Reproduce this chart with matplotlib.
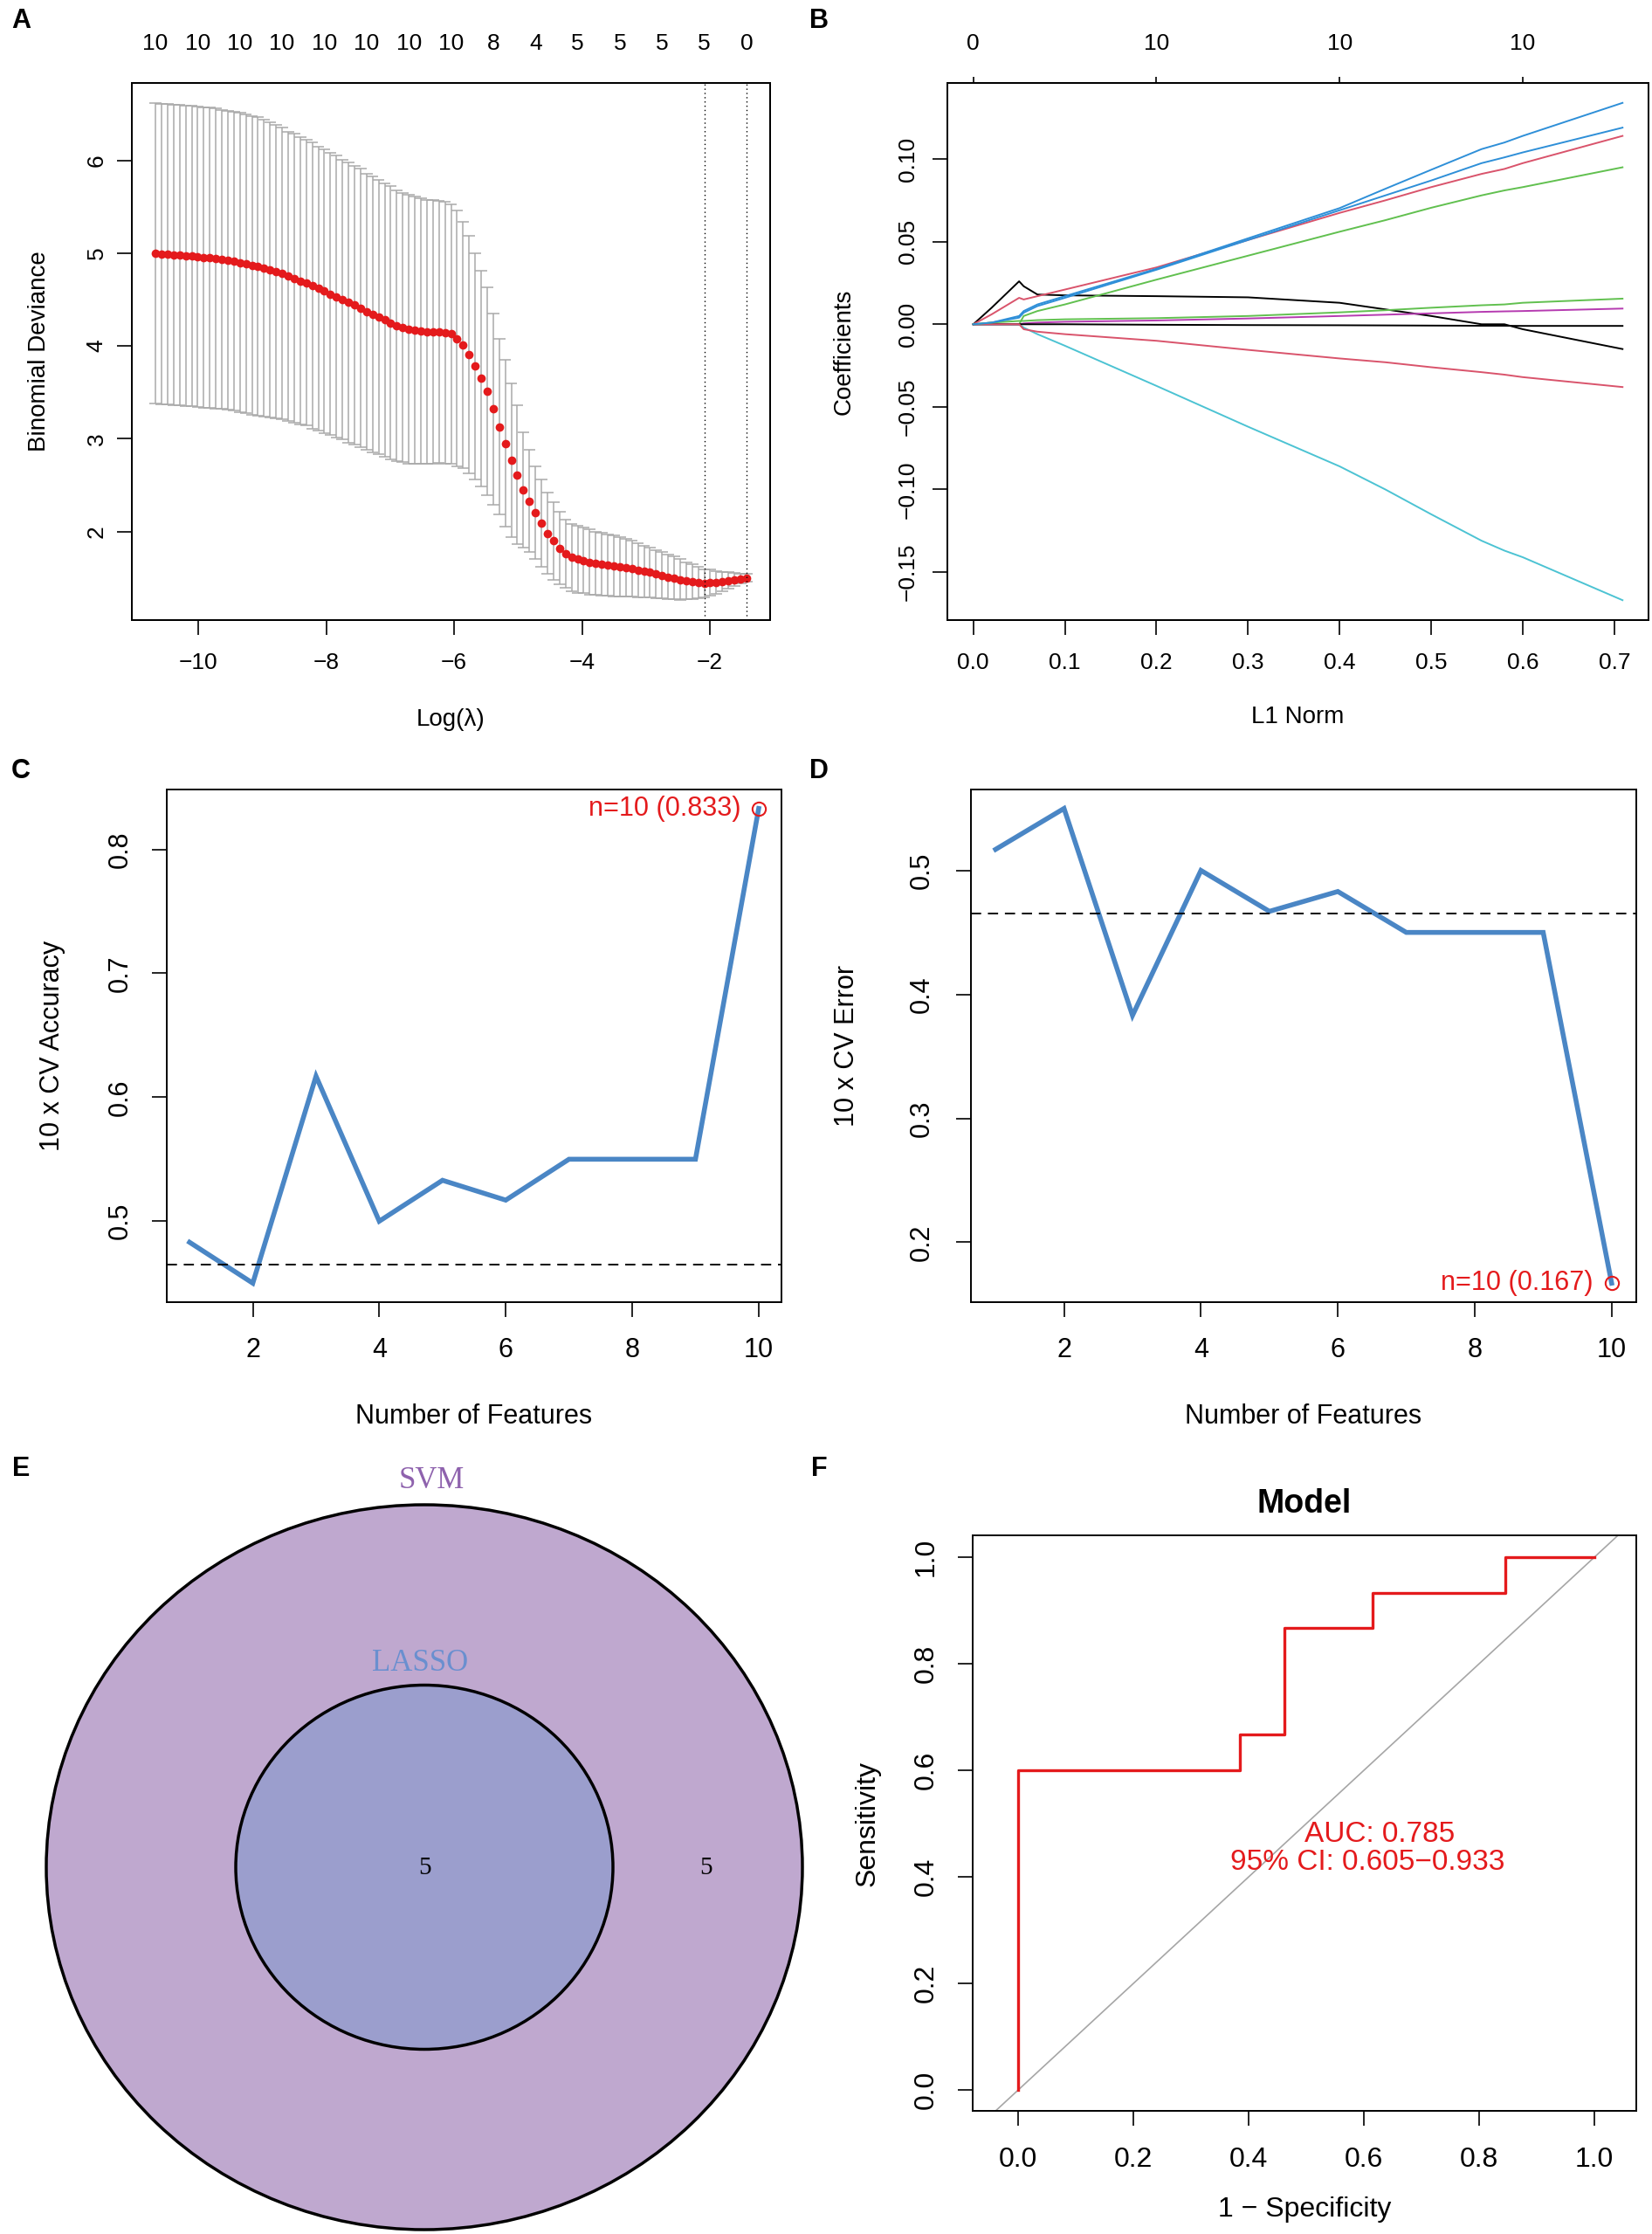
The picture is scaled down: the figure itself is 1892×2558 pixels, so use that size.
import numpy as np
import matplotlib
matplotlib.use("Agg")
import matplotlib.pyplot as plt
from matplotlib.patches import Ellipse

plt.rcParams['font.family'] = ['Liberation Sans', 'DejaVu Sans']
plt.rcParams['axes.linewidth'] = 1.4

# ---------------- data ----------------
# A: cv.glmnet binomial deviance along the lambda path
log_lambda = np.linspace(-10.67, -1.43, 99)
cv_mean = [5.00, 4.99, 4.99, 4.98, 4.98, 4.97, 4.97, 4.96, 4.95, 4.95,
           4.94, 4.93, 4.92, 4.91, 4.90, 4.89, 4.87, 4.86, 4.84, 4.82,
           4.80, 4.78, 4.75, 4.73, 4.70, 4.68, 4.65, 4.62, 4.59, 4.56,
           4.53, 4.50, 4.47, 4.44, 4.41, 4.37, 4.34, 4.31, 4.28, 4.25,
           4.22, 4.20, 4.18, 4.17, 4.16, 4.15, 4.15, 4.15, 4.14, 4.13,
           4.08, 4.01, 3.91, 3.78, 3.65, 3.51, 3.32, 3.13, 2.95, 2.77,
           2.61, 2.45, 2.33, 2.20, 2.09, 1.98, 1.90, 1.82, 1.76, 1.72,
           1.70, 1.69, 1.67, 1.66, 1.65, 1.64, 1.63, 1.62, 1.61, 1.60,
           1.58, 1.57, 1.56, 1.54, 1.53, 1.51, 1.50, 1.48, 1.47, 1.46,
           1.45, 1.445, 1.45, 1.45, 1.46, 1.47, 1.48, 1.49, 1.50]
cv_sd = [1.62, 1.62, 1.62, 1.62, 1.62, 1.62, 1.62, 1.62, 1.62, 1.62,
         1.62, 1.61, 1.61, 1.61, 1.61, 1.61, 1.61, 1.61, 1.60, 1.59,
         1.58, 1.57, 1.56, 1.56, 1.55, 1.54, 1.54, 1.53, 1.53, 1.52,
         1.52, 1.51, 1.51, 1.50, 1.50, 1.49, 1.49, 1.48, 1.47, 1.47,
         1.46, 1.45, 1.45, 1.44, 1.43, 1.42, 1.42, 1.41, 1.41, 1.40,
         1.38, 1.33, 1.28, 1.22, 1.16, 1.12, 1.03, 0.95, 0.90, 0.83,
         0.75, 0.62, 0.55, 0.50, 0.47, 0.44, 0.42, 0.39, 0.37, 0.36,
         0.36, 0.35, 0.35, 0.34, 0.34, 0.33, 0.33, 0.32, 0.31, 0.30,
         0.29, 0.28, 0.27, 0.26, 0.25, 0.24, 0.23, 0.22, 0.20, 0.19,
         0.17, 0.15, 0.14, 0.12, 0.10, 0.09, 0.07, 0.05, 0.04]
nzero_labels = [10, 10, 10, 10, 10, 10, 10, 10, 8, 4, 5, 5, 5, 5, 0]
idx_lambda_min = 91
idx_lambda_1se = 98

# B: coefficient paths vs L1 norm
l1_norm = [0.0, 0.02, 0.05, 0.055, 0.07, 0.1, 0.2, 0.3, 0.4, 0.45, 0.5, 0.555, 0.58, 0.6, 0.709]
coef_black1 = [0, 0.010, 0.026, 0.023, 0.018, 0.0175, 0.017, 0.0163, 0.013, 0.009, 0.005, 0.0, 0.0, -0.003, -0.015]
coef_red1 = [0, 0.006, 0.016, 0.015, 0.017, 0.021, 0.0344, 0.051, 0.0674, 0.075, 0.083, 0.091, 0.094, 0.0975, 0.114]
coef_green1 = [0, 0, 0, 0.005, 0.008, 0.012, 0.027, 0.0415, 0.056, 0.063, 0.0705, 0.078, 0.081, 0.083, 0.095]
coef_blue1 = [0, 0.001, 0.005, 0.008, 0.012, 0.017, 0.0336, 0.052, 0.0703, 0.082, 0.0935, 0.106, 0.110, 0.114, 0.134]
coef_cyan = [0, 0, 0, -0.002, -0.006, -0.013, -0.0373, -0.062, -0.086, -0.100, -0.115, -0.131, -0.137, -0.141, -0.167]
coef_magenta = [0, 0, 0, 0.0005, 0.001, 0.0015, 0.0023, 0.0035, 0.005, 0.0058, 0.0066, 0.0075, 0.0078, 0.008, 0.0095]
coef_black2 = [0, 0, 0, 0, 0, 0, -0.0003, -0.0005, -0.0006, -0.0007, -0.0008, -0.0009, -0.0009, -0.001, -0.001]
coef_red2 = [0, 0, 0, -0.003, -0.0045, -0.006, -0.010, -0.0155, -0.0207, -0.023, -0.026, -0.029, -0.0305, -0.032, -0.038]
coef_green2 = [0, 0.001, 0.002, 0.002, 0.0025, 0.003, 0.0037, 0.005, 0.0072, 0.0085, 0.010, 0.0115, 0.012, 0.013, 0.0155]
coef_blue2 = [0, 0.001, 0.004, 0.007, 0.011, 0.016, 0.033, 0.051, 0.069, 0.078, 0.087, 0.0975, 0.101, 0.104, 0.119]
coef_paths = [coef_black1, coef_red1, coef_green1, coef_blue1, coef_cyan,
              coef_magenta, coef_black2, coef_red2, coef_green2, coef_blue2]
path_colors = ['black', '#D9536B', '#61C04F', '#2E8FD8', '#4CC3D3',
               '#B53AB0', 'black', '#D9536B', '#61C04F', '#2E8FD8']
df_ticks = [0.0, 0.2, 0.4, 0.6]
df_labels = [0, 10, 10, 10]

# C / D: SVM-RFE cross-validation
n_features = [1, 2, 3, 4, 5, 6, 7, 8, 9, 10]
cv_accuracy = [0.483, 0.450, 0.617, 0.500, 0.533, 0.517, 0.550, 0.550, 0.550, 0.833]
cv_error = [0.517, 0.550, 0.383, 0.500, 0.467, 0.483, 0.450, 0.450, 0.450, 0.167]
ref_accuracy = 0.465
ref_error = 0.465

# E: Venn
set_names = ['SVM', 'LASSO']
region_counts = [5, 5]   # LASSO & SVM, SVM only

# F: ROC
roc_fpr = [0.0, 0.0, 0.385, 0.385, 0.462, 0.462, 0.615, 0.615, 0.846, 0.846, 1.0]
roc_tpr = [0.0, 0.6, 0.6, 0.667, 0.667, 0.867, 0.867, 0.933, 0.933, 1.0, 1.0]
auc_text = "AUC: 0.785"
ci_text = "95% CI: 0.605\u22120.933"

RED = '#e41a1c'
BLUE = '#4a86c5'

# ---------------- helpers ----------------
W, H = 1892, 2558
fig = plt.figure(figsize=(W / 100, H / 100), dpi=100)


def panel(l, t, r, b):
    return fig.add_axes([l / W, 1 - b / H, (r - l) / W, (b - t) / H])


def rlim(lo, hi):
    d = (hi - lo) * 0.04
    return lo - d, hi + d


def style(ax, size, xpad, ypad, length=12.5):
    ax.tick_params(axis='both', direction='out', length=length, width=1.2,
                   labelsize=size, top=False, right=False)
    ax.tick_params(axis='x', pad=xpad)
    ax.tick_params(axis='y', pad=ypad)
    for lab in ax.get_yticklabels():
        lab.set_rotation(90)
        lab.set_va('center')


def labels(ax, xl, yl, size, xpos, ypos):
    ax.set_xlabel(xl, fontsize=size)
    ax.set_ylabel(yl, fontsize=size)
    ax.xaxis.set_label_coords(0.5, xpos)
    ax.xaxis.label.set_va('center')
    ax.yaxis.set_label_coords(ypos, 0.5)
    ax.yaxis.label.set_va('center')


def letter(x, y, s):
    fig.text(x / W, 1 - y / H, s, fontsize=22, fontweight='bold', ha='center', va='center')


# ---------------- A ----------------
axA = panel(151, 95, 882, 710)
mean = np.array(cv_mean)
sd = np.array(cv_sd)
up, lo = mean + sd, mean - sd
barw = 0.01 * (log_lambda.max() - log_lambda.min())
axA.vlines(log_lambda, lo, up, color='#a9a9a9', lw=1.1)
axA.hlines(up, log_lambda - barw, log_lambda + barw, color='#a9a9a9', lw=1.1)
axA.hlines(lo, log_lambda - barw, log_lambda + barw, color='#a9a9a9', lw=1.1)
axA.plot(log_lambda, mean, 'o', color=RED, ms=7, mec='none')
for i in (idx_lambda_min, idx_lambda_1se):
    axA.axvline(log_lambda[i], color='black', lw=1.0, ls=(0, (1, 2.5)))
axA.set_xlim(rlim(log_lambda.min(), log_lambda.max()))
axA.set_ylim(rlim(lo.min(), up.max()))
axA.set_xticks([-10, -8, -6, -4, -2])
axA.set_yticks([2, 3, 4, 5, 6])
style(axA, 19, 14, 8)
labels(axA, 'Log(\u03bb)', 'Binomial Deviance', 20, -0.185, -0.145)
topA = axA.twiny()
topA.set_xlim(axA.get_xlim())
topA.set_xticks(log_lambda[::7])
topA.set_xticklabels([str(v) for v in nzero_labels])
topA.tick_params(axis='x', length=0, labelsize=19, pad=24)
letter(24, 24, 'A')

# ---------------- B ----------------
axB = panel(1085, 95, 1888, 710)
for vals, col in zip(coef_paths, path_colors):
    axB.plot(l1_norm, vals, color=col, lw=1.4)
allc = np.concatenate([np.array(v) for v in coef_paths])
axB.set_xlim(rlim(min(l1_norm), max(l1_norm)))
axB.set_ylim(rlim(allc.min(), allc.max()))
axB.set_xticks([0.0, 0.1, 0.2, 0.3, 0.4, 0.5, 0.6, 0.7])
axB.set_xticklabels([f'{v:.1f}' for v in axB.get_xticks()])
axB.set_yticks([-0.15, -0.10, -0.05, 0.0, 0.05, 0.10])
axB.set_yticklabels([f'{v:.2f}'.replace('-', '\u2212') for v in axB.get_yticks()])
style(axB, 19, 14, 11.5)
labels(axB, 'L1 Norm', 'Coefficients', 20, -0.18, -0.147)
topB = axB.twiny()
topB.set_xlim(axB.get_xlim())
topB.set_xticks(df_ticks)
topB.set_xticklabels([str(v) for v in df_labels])
topB.tick_params(axis='x', length=5, width=1.2, labelsize=19, pad=19)
letter(938, 24, 'B')

# ---------------- C ----------------
axC = panel(191, 904, 895, 1491)
axC.plot(n_features, cv_accuracy, color=BLUE, lw=4, solid_joinstyle='miter')
axC.axhline(ref_accuracy, color='black', lw=1.4, ls=(0, (6, 4)))
best = int(np.argmax(cv_accuracy))
axC.plot(n_features[best], cv_accuracy[best], 'o', mfc='none', mec=RED, ms=11, mew=1.5)
axC.annotate(f'n={n_features[best]} ({cv_accuracy[best]:.3f})',
             (n_features[best], cv_accuracy[best]), xytext=(-15, 0),
             textcoords='offset points', ha='right', va='center', color=RED, fontsize=22)
axC.set_xlim(rlim(min(n_features), max(n_features)))
axC.set_ylim(rlim(min(cv_accuracy), max(cv_accuracy)))
axC.set_xticks([2, 4, 6, 8, 10])
axC.set_yticks([0.5, 0.6, 0.7, 0.8])
style(axC, 22, 16, 15)
labels(axC, 'Number of Features', '10 x CV Accuracy', 22, -0.223, -0.186)
letter(24, 883, 'C')

# ---------------- D ----------------
axD = panel(1112, 904, 1874, 1491)
axD.plot(n_features, cv_error, color=BLUE, lw=4, solid_joinstyle='miter')
axD.axhline(ref_error, color='black', lw=1.4, ls=(0, (6, 4)))
best = int(np.argmin(cv_error))
axD.plot(n_features[best], cv_error[best], 'o', mfc='none', mec=RED, ms=11, mew=1.5)
axD.annotate(f'n={n_features[best]} ({cv_error[best]:.3f})',
             (n_features[best], cv_error[best]), xytext=(-15, 0),
             textcoords='offset points', ha='right', va='center', color=RED, fontsize=22)
axD.set_xlim(rlim(min(n_features), max(n_features)))
axD.set_ylim(rlim(min(cv_error), max(cv_error)))
axD.set_xticks([2, 4, 6, 8, 10])
axD.set_yticks([0.2, 0.3, 0.4, 0.5])
style(axD, 22, 16, 17)
labels(axD, 'Number of Features', '10 x CV Error', 22, -0.223, -0.186)
letter(938, 883, 'D')

# ---------------- E ----------------
axE = fig.add_axes([0, 0, 946 / W, 918 / H])
axE.set_xlim(0, 946)
axE.set_ylim(2558, 1640)
axE.axis('off')
axE.add_patch(Ellipse((486, 2138), 866, 830, fc='#bfa8cf', ec='black', lw=2.5))
axE.add_patch(Ellipse((486, 2138), 432, 417, fc='#9b9ecd', ec='black', lw=2.5))
serif = ['Liberation Serif', 'DejaVu Serif']
axE.text(494, 1696, set_names[0], color='#8e62ad', fontsize=25, family=serif, ha='center', va='center')
axE.text(481, 1905, set_names[1], color='#6a8fcf', fontsize=25, family=serif, ha='center', va='center')
axE.text(486, 2139, str(region_counts[0]), fontsize=21, family=serif, ha='center', va='center')
axE.text(808, 2139, str(region_counts[1]), fontsize=21, family=serif, ha='center', va='center')
letter(24, 1682, 'E')

# ---------------- F ----------------
axF = panel(1114, 1758, 1874, 2417)
axF.axline((0, 0), (1, 1), color='#a6a6a6', lw=1.2)
axF.plot(roc_fpr, roc_tpr, color=RED, lw=2.4)
axF.text(0.627, 0.479, auc_text, color=RED, fontsize=24, ha='center', va='center')
axF.text(0.606, 0.428, ci_text, color=RED, fontsize=24, ha='center', va='center')
axF.set_xlim(-0.0788, 1.0727)
axF.set_ylim(-0.039, 1.041)
ticks = [0.0, 0.2, 0.4, 0.6, 0.8, 1.0]
axF.set_xticks(ticks)
axF.set_yticks(ticks)
axF.set_xticklabels([f'{v:.1f}' for v in ticks])
axF.set_yticklabels([f'{v:.1f}' for v in ticks])
style(axF, 23, 17, 15)
labels(axF, '1 \u2212 Specificity', 'Sensitivity', 23, -0.171, -0.158)
axF.set_title('Model', fontsize=27, fontweight='bold', pad=19)
letter(938, 1682, 'F')

fig.savefig('out.png', dpi=100)
